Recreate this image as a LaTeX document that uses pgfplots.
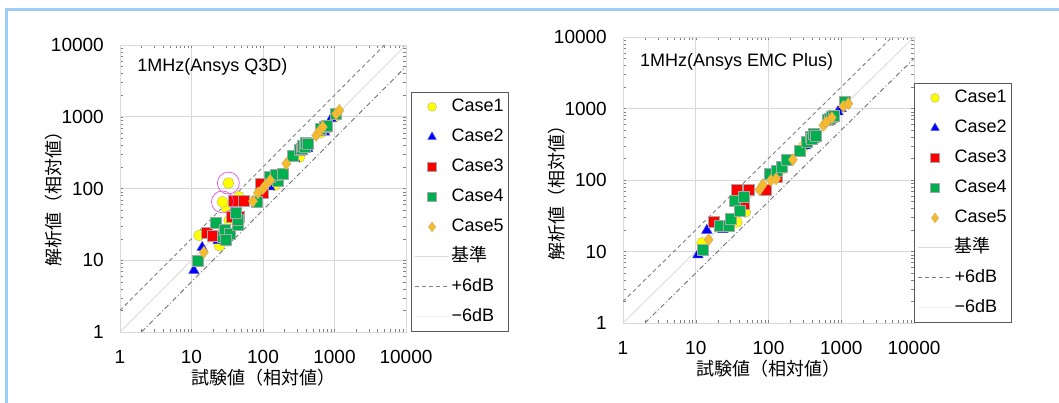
\documentclass[border=0pt]{standalone}
\usepackage{fontspec}
\setmainfont{Liberation Sans}
\newfontfamily\jp{Noto Sans CJK JP}
\usepackage{pgfplots}
\pgfplotsset{compat=1.18}

\definecolor{frameblue}{HTML}{9ECCFA}
\definecolor{gridgray}{HTML}{D9D9D9}
\definecolor{markgray}{HTML}{A6A6A6}
\definecolor{legendgray}{HTML}{595959}
\definecolor{myyellow}{HTML}{FFFF00}
\definecolor{myblue}{HTML}{0000FF}
\definecolor{myred}{HTML}{FF0000}
\definecolor{mygreen}{HTML}{00B050}
\definecolor{myorange}{HTML}{F7BA2A}
\definecolor{pinkc}{HTML}{E055D8}

\tikzset{
  refline/.style={draw=gridgray, line width=0.8pt},
  plusline/.style={draw=gray, line width=0.9pt, dash pattern=on 4pt off 3pt},
  minusline/.style={draw=gray!90!black, line width=0.9pt, dash pattern=on 5pt off 2.5pt on 1pt off 2.5pt},
}

\begin{document}
\begin{tikzpicture}
\useasboundingbox (0,0) rectangle (1059pt,403pt);
\fill[white] (0,0) rectangle (1059pt,403pt);
\draw[frameblue, line width=3pt, line join=miter] (6.5pt,0pt) -- (6.5pt,393pt) -- (1059pt,393pt);

% ---------------- Left: Q3D ----------------
\begin{axis}[at={(120pt,71pt)}, anchor=south west, width=286pt, height=287pt,
    scale only axis, xmode=log, ymode=log,
    xmin=1, xmax=10000, ymin=1, ymax=10000,
    xtick={1,10,100,1000,10000}, ytick={1,10,100,1000,10000},
    xticklabels={1,10,100,1000,10000}, yticklabels={1,10,100,1000,10000},
    minor tick num=0, major tick length=0pt,
    grid=major, major grid style={draw=gridgray, line width=0.8pt},
    axis line style={draw=gridgray, line width=0.8pt},
    tick label style={font=\fontsize{19}{21}\selectfont},
    xticklabel style={inner sep=0pt, anchor=north, yshift=-18pt},
    yticklabel style={inner sep=0pt, anchor=east, xshift=-16pt},
    label style={font=\jp\fontsize{18}{20}\selectfont},
    legend cell align=left,
    legend style={at={(1,0)}, anchor=south west, xshift=5pt, draw=legendgray, line width=1.2pt, fill=white,
      font=\fontsize{18}{20}\selectfont, inner xsep=3pt, inner ysep=4pt, row sep=9pt,
      nodes={inner sep=2pt, text height=13pt, text depth=4pt}},
    legend image code/.code={\path[draw=none, fill=none] (0pt,-4pt) rectangle (34pt,4pt);
      \draw[#1, draw=none, mark repeat=2, mark phase=2, every mark/.append style={scale=0.8}]
        plot coordinates {(0pt,0pt) (17pt,0pt) (34pt,0pt)};},
  xlabel={試験値（相対値）}, ylabel={解析値（相対値）},
  xlabel style={at={(axis description cs:0.5,0)}, anchor=center, yshift=-46pt},
  ylabel style={at={(axis description cs:-0.232,0.48)}, anchor=center},
]
\addplot[refline, forget plot] coordinates {(1,1) (10000,10000)};
\addplot[plusline, forget plot] coordinates {(1,2) (5000,10000)};
\addplot[minusline, forget plot] coordinates {(2,1) (10000,5000)};

\addplot[draw=none, mark=*, mark size=5.5pt, mark options={draw=markgray!70!myyellow, fill=myyellow, line width=0.5pt, solid}] coordinates {
(40,45) (324,275) (640,600) (1000,1000) (146,111) (33.6,36) (24.6,16) (12.8,22.2)
(46,77) (30.8,54) (27.1,65) (32.8,119)};
\addlegendentry{Case1}
\addplot[draw=none, mark=triangle*, mark size=6pt, mark options={draw=markgray!40!myblue, fill=myblue, line width=0.5pt, solid}] coordinates {
(10.8,7.2) (14.1,15.1) (23.6,18.8) (45,38) (124,105) (150,140) (277,261) (361,323) (420,360)
(725,612) (800,700) (898,938) (1000,1000)};
\addlegendentry{Case2}
\addplot[draw=none, mark=square*, mark size=5.5pt, mark options={draw=markgray, fill=myred, line width=0.5pt, solid}] coordinates {
(16.5,24) (20,22) (36.2,40) (46,41) (39.4,66.7) (54.3,66.7) (100,87) (91.8,117) (153,145)};
\addlegendentry{Case3}
\addplot[draw=none, mark=square*, mark size=5.5pt, mark options={draw=markgray, fill=mygreen, line width=0.5pt, solid}] coordinates {
(12.4,9.9) (21.6,33.4) (27.1,21.3) (29.2,27) (34.3,23.7) (30.1,19.2) (44.8,31) (43.8,36.3)
(41.1,45.9) (81.6,66) (162,130) (126,145) (153,153) (186,162) (262,290) (330,350) (343,359)
(360,400) (381,379) (400,430) (424,422) (650,680) (725,718) (780,740) (1054,1100)};
\addlegendentry{Case4}
\addplot[draw=none, mark=diamond*, mark size=6pt, mark options={draw=markgray!50!myorange, fill=myorange, line width=0.5pt, solid}] coordinates {
(14.9,12.9) (72.5,66.7) (85,87) (100,100) (111,113) (126,130) (212,222) (555,550) (620,640)
(687,718) (1054,1100) (1170,1225)};
\addlegendentry{Case5}
\addplot[draw=none, mark=o, mark size=11pt, mark options={draw=pinkc, line width=0.7pt, solid}, forget plot] coordinates {
(32.8,119) (27.1,65)};
\addlegendimage{legend image code/.code={\draw[refline] (0pt,0pt) -- (34pt,0pt);}}
\addlegendentry{\jp 基準}
\addlegendimage{legend image code/.code={\draw[plusline] (0pt,0pt) -- (34pt,0pt);}}
\addlegendentry{+6dB}
\addlegendimage{legend image code/.code={\draw[draw=gray!12, line width=0.8pt] (0pt,0pt) -- (34pt,0pt);}}
\addlegendentry{−6dB}
\node[anchor=west, font=\fontsize{18}{20}\selectfont, inner sep=0pt] at (rel axis cs:0.06,0.923) {1MHz(Ansys Q3D)};
\end{axis}

% ---------------- Right: EMC Plus ----------------
\begin{axis}[at={(623pt,80pt)}, anchor=south west, width=291pt, height=286pt,
    scale only axis, xmode=log, ymode=log,
    xmin=1, xmax=10000, ymin=1, ymax=10000,
    xtick={1,10,100,1000,10000}, ytick={1,10,100,1000,10000},
    xticklabels={1,10,100,1000,10000}, yticklabels={1,10,100,1000,10000},
    minor tick num=0, major tick length=0pt,
    grid=major, major grid style={draw=gridgray, line width=0.8pt},
    axis line style={draw=gridgray, line width=0.8pt},
    tick label style={font=\fontsize{19}{21}\selectfont},
    xticklabel style={inner sep=0pt, anchor=north, yshift=-18pt},
    yticklabel style={inner sep=0pt, anchor=east, xshift=-16pt},
    label style={font=\jp\fontsize{18}{20}\selectfont},
    legend cell align=left,
    legend style={at={(1,0)}, anchor=south west, draw=legendgray, line width=1.2pt, fill=white,
      font=\fontsize{18}{20}\selectfont, inner xsep=3pt, inner ysep=4pt, row sep=9pt,
      nodes={inner sep=2pt, text height=13pt, text depth=4pt}},
    legend image code/.code={\path[draw=none, fill=none] (0pt,-4pt) rectangle (34pt,4pt);
      \draw[#1, draw=none, mark repeat=2, mark phase=2, every mark/.append style={scale=0.8}]
        plot coordinates {(0pt,0pt) (17pt,0pt) (34pt,0pt)};},
  xlabel={試験値（相対値）}, ylabel={解析値（相対値）},
  xlabel style={at={(axis description cs:0.5,0)}, anchor=center, yshift=-46pt},
  ylabel style={at={(axis description cs:-0.228,0.47)}, anchor=center},
]
\addplot[refline, forget plot] coordinates {(1,1) (10000,10000)};
\addplot[plusline, forget plot] coordinates {(1,2) (5000,10000)};
\addplot[minusline, forget plot] coordinates {(2,1) (10000,5000)};

\addplot[draw=none, mark=*, mark size=5.5pt, mark options={draw=markgray!70!myyellow, fill=myyellow, line width=0.5pt, solid}] coordinates {
(150,140) (300,290) (30,27) (12.2,13.2) (36.7,25.9) (47.8,35.7)};
\addlegendentry{Case1}
\addplot[draw=none, mark=triangle*, mark size=6pt, mark options={draw=markgray!40!myblue, fill=myblue, line width=0.5pt, solid}] coordinates {
(10.7,9.0) (14.2,19.8) (23.6,20.2) (26,21) (39.6,33.8) (320,300) (420,370) (900,900) (995,995)};
\addlegendentry{Case2}
\addplot[draw=none, mark=square*, mark size=5.5pt, mark options={draw=markgray, fill=myred, line width=0.5pt, solid}] coordinates {
(17.6,26.4) (37,73.3) (54,73.3) (45.4,46.7) (92.9,73.3) (130,110)};
\addlegendentry{Case3}
\addplot[draw=none, mark=square*, mark size=5.5pt, mark options={draw=markgray, fill=mygreen, line width=0.5pt, solid}] coordinates {
(12.3,10.6) (21.2,23.2) (28.3,23.2) (29.8,28.8) (34.8,52) (40,37.7) (45.4,59) (105,123)
(130,136) (152,155) (179,192) (272,260) (336,340) (380,400) (393,378) (420,440) (451,421)
(650,690) (703,721) (750,760) (780,804) (1130,1233)};
\addlegendentry{Case4}
\addplot[draw=none, mark=diamond*, mark size=6pt, mark options={draw=markgray!50!myorange, fill=myorange, line width=0.5pt, solid}] coordinates {
(15,14.6) (75.2,73.3) (83.6,86) (108,99) (127,104) (216,192) (569,582) (620,640) (741,744)
(1071,1072) (1253,1169)};
\addlegendentry{Case5}
\addlegendimage{legend image code/.code={\draw[refline] (0pt,0pt) -- (34pt,0pt);}}
\addlegendentry{\jp 基準}
\addlegendimage{legend image code/.code={\draw[plusline] (0pt,0pt) -- (34pt,0pt);}}
\addlegendentry{+6dB}
\addlegendimage{legend image code/.code={\draw[draw=gray!12, line width=0.8pt] (0pt,0pt) -- (34pt,0pt);}}
\addlegendentry{−6dB}
\node[anchor=west, font=\fontsize{18}{20}\selectfont, inner sep=0pt] at (rel axis cs:0.058,0.913) {1MHz(Ansys EMC Plus)};
\end{axis}
\end{tikzpicture}
\end{document}
